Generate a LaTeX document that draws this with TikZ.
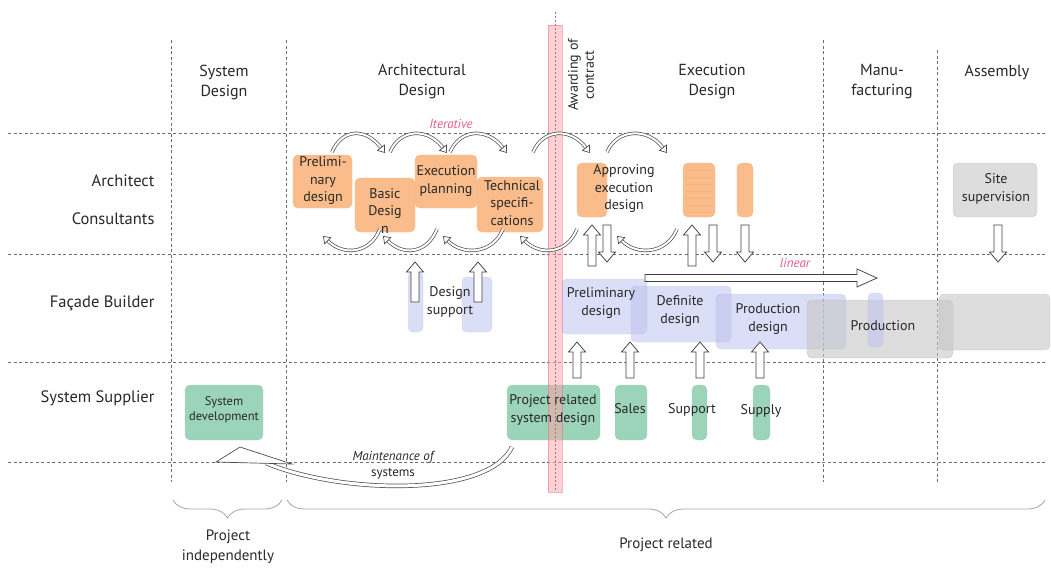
\documentclass[tikz,border=0pt]{standalone}
\usepackage{fontspec}
\setmainfont{PT Sans}
\usetikzlibrary{arrows.meta,decorations.pathreplacing}
\definecolor{orng}{RGB}{249,188,138}
\definecolor{lav}{RGB}{188,194,238}
\definecolor{grn}{RGB}{156,212,186}
\definecolor{gry}{RGB}{198,198,198}
\definecolor{pnk}{RGB}{232,90,140}
\definecolor{txt}{RGB}{40,40,40}
\definecolor{gridc}{RGB}{110,110,110}
\newcommand{\blkup}[3]{\draw[blk] (#1-4,#2) -- (#1-4,#3+10) -- (#1-8.5,#3+10) -- (#1,#3) -- (#1+8.5,#3+10) -- (#1+4,#3+10) -- (#1+4,#2) -- cycle;}
\newcommand{\blkdown}[3]{\draw[blk] (#1-4,#2) -- (#1-4,#3-10) -- (#1-8.5,#3-10) -- (#1,#3) -- (#1+8.5,#3-10) -- (#1+4,#3-10) -- (#1+4,#2) -- cycle;}
\newcommand{\arctop}[2]{\draw[arcstyle] (#1,152) .. controls (#1+10,129) and (#2-20,127) .. (#2,153);}
\newcommand{\arcbot}[2]{\draw[arcstyle] (#2,229) .. controls (#2-10,254) and (#1+20,256) .. (#1,236);}
\begin{document}
\begin{tikzpicture}[x=1pt,y=-1pt,
  every node/.style={text=txt},
  gridline/.style={draw=gridc, line width=1pt, dash pattern=on 3pt off 2.5pt},
  hdr/.style={font=\fontsize{16}{20}\selectfont, align=center},
  rowlab/.style={font=\fontsize{16.5}{20}\selectfont, anchor=east},
  btxt/.style={font=\fontsize{14}{17.5}\selectfont, align=center, inner sep=0pt},
  stxt/.style={font=\fontsize{12.5}{15}\selectfont, align=center, inner sep=0pt},
  anyrect/.style={rounded corners=5pt, inner sep=0pt, minimum width=#1},
  obox/.style={anyrect=#1, fill=orng, draw=orng!90!brown, line width=0.3pt},
  lbox/.style={anyrect=#1, fill=lav, fill opacity=0.55, draw=lav!80!black, draw opacity=0.35, line width=0.4pt},
  gbox/.style={anyrect=#1, fill=gry, fill opacity=0.6, draw=gray, draw opacity=0.3, line width=0.4pt},
  grbox/.style={anyrect=#1, fill=grn, draw=grn!85!black, draw opacity=0.4, line width=0.3pt},
  blk/.style={draw=black!75, fill=white, line width=0.75pt},
  arcstyle/.style={draw=black!70, double=white, double distance=2pt, line width=0.7pt,
     -{Triangle[open, length=7pt, width=10pt]}},
  pinklab/.style={text=pnk, font=\fontsize{13}{15}\selectfont\itshape}
]
\useasboundingbox (0,0) rectangle (1051,568);
% grid
\foreach \yy in {133,254,362,462} \draw[gridline] (8,\yy) -- (1045,\yy);
\foreach \xx/\yt in {171/40,286/40,823/40,937/50} \draw[gridline] (\xx,\yt) -- (\xx,482);
% architect row boxes
\node[obox=59pt, minimum height=53pt] (bpre) at (322.5,181.5) {};
\node[obox=60pt, minimum height=54pt] (bbas) at (385,205) {};
\node[obox=62pt, minimum height=53pt] (bexe) at (446,181.5) {};
\node[obox=66pt, minimum height=55pt] (btec) at (510,204.5) {};
\node[obox=30pt, minimum height=54pt] (bapp) at (592,190) {};
\node[obox=32pt, minimum height=54pt] (bob2) at (699,190) {};
\foreach \yy in {170,177,184,191,198,205,212} \draw[orng!75!brown, line width=0.3pt, opacity=0.5] (685,\yy) -- (713,\yy);
\node[obox=16pt, minimum height=54pt] (bob3) at (745,190) {};
\node[gbox=84pt, minimum height=54pt] (bsite) at (995,190) {};
% facade row boxes
\node[lbox=15pt, minimum height=60pt] (ds1) at (415.5,302) {};
\node[lbox=30pt, minimum height=55pt] (ds2) at (477,304.5) {};
\node[lbox=85pt, minimum height=55pt] (fpre) at (604.5,306.5) {};
\node[lbox=100pt, minimum height=56pt] (fdef) at (681,314) {};
\node[lbox=130pt, minimum height=55pt] (fprd) at (781,321.5) {};
\node[gbox=146pt, minimum height=58pt] (fpro) at (880,329) {};
\node[lbox=15pt, minimum height=54pt] (fbar) at (875.5,320) {};
\node[gbox=111pt, minimum height=56pt] (fass) at (994.5,322) {};
% supplier row boxes
\node[grbox=78pt, minimum height=55pt] (ssd) at (224,412.5) {};
\node[grbox=93pt, minimum height=55pt] (sprs) at (553.5,412.5) {};
\node[grbox=32pt, minimum height=55pt] (ssal) at (631,412.5) {};
\node[grbox=15pt, minimum height=55pt] (ssup) at (699.5,412.5) {};
\node[grbox=17pt, minimum height=55pt] (sspl) at (761.5,412.5) {};
% awarding of contract bar
\node[fill=pink!85!red, fill opacity=0.5, draw=pnk, draw opacity=0.45, line width=0.5pt,
      minimum width=14pt, minimum height=467pt, inner sep=0pt] (bar) at (555,258.5) {};
\draw[draw=pnk!55!gray, line width=0.9pt, dash pattern=on 2pt off 2pt] (555,12) -- (555,492);
% iterative arcs
\arctop{332}{385}
\arctop{390}{447}
\arctop{450}{507}
\arctop{533}{590}
\arctop{607}{667}
\arcbot{323}{380}
\arcbot{383}{437}
\arcbot{443}{503}
\arcbot{520}{577}
\arcbot{617}{677}
% block arrows architect row
\blkup{592}{266}{225}
\blkdown{607}{225}{262}
\blkup{692}{266}{225}
\blkdown{713}{225}{262}
\blkdown{745}{225}{262}
\blkdown{998}{225}{262}
% design support arrows
\blkup{415}{302}{262}
\blkup{478}{302}{262}
% supplier to facade arrows
\blkup{577}{378}{342}
\blkup{630}{378}{342}
\blkup{700}{378}{342}
\blkup{760}{378}{342}
% linear arrow
\draw[blk] (645,274.5) -- (857,274.5) -- (857,269) -- (877,278) -- (857,287) -- (857,281.5) -- (645,281.5) -- cycle;
% maintenance arrow
\coordinate (mstart) at (512,447);
\coordinate (mend) at (266,463);
\draw[draw=black!70, double=white, double distance=3pt, line width=0.7pt] (mstart) .. controls (488,498) and (340,494) .. (mend);
\draw[draw=black!70, fill=white, line width=0.7pt] (216,462) -- (240,447) -- (292,464) -- cycle;
% texts: headers
\node[hdr] (hsys) at (224,82) {System\\Design};
\node[hdr] (harc) at (422,82) {Architectural\\Design};
\node[hdr] (hexe) at (712,82) {Execution\\Design};
\node[hdr] (hman) at (882,82) {Manu-\\facturing};
\node[hdr] (hass) at (997,72) {Assembly};
\node[font=\fontsize{14}{16}\selectfont, align=center, rotate=90] (hawd) at (581,75) {Awarding of\\contract};
% row labels
\node[rowlab] (rarc) at (158,181) {Architect};
\node[rowlab] (rcon) at (158,219) {Consultants};
\node[rowlab] (rfac) at (158,303) {Façade Builder};
\node[rowlab] (rsup) at (158,398) {System Supplier};
% pink labels
\node[pinklab] (liter) at (451,124) {Iterative};
\node[pinklab] (llin) at (795,263) {linear};
% box texts
\node[btxt] (tpre) at (323,181) {Prelimi-\\nary\\design};
\node[btxt] (tbas) at (385,211) {Basic\\Desig\\n};
\node[btxt] (texe) at (446,181) {Execution\\planning};
\node[btxt] (ttec) at (512,203) {Technical\\specifi-\\cations};
\node[btxt] (tapp) at (624,189) {Approving\\execution\\design};
\node[btxt] (tsite) at (996,189) {Site\\supervision};
\node[btxt] (tds) at (450,302) {Design\\support};
\node[btxt] (tfpre) at (601,303) {Preliminary\\design};
\node[btxt] (tfdef) at (680,311) {Definite\\design};
\node[btxt] (tfprd) at (768,319) {Production\\design};
\node[btxt] (tfpro) at (883,326) {Production};
\node[stxt] (tssd) at (224,410) {System\\development};
\node[btxt] (tsprs) at (553,410) {Project related\\system design};
\node[btxt] (tsal) at (630,409) {Sales};
\node[btxt] (tsup) at (692,410) {Support};
\node[btxt] (tspl) at (761,411) {Supply};
\node[font=\fontsize{13}{16}\selectfont, align=center] (tmnt) at (393,465) {\itshape Maintenance of\\systems};
% braces
\draw[gray!70, line width=0.8pt, decorate, decoration={brace, mirror, amplitude=18pt}] (173,500) -- (282,500);
\draw[gray!70, line width=0.8pt, decorate, decoration={brace, mirror, amplitude=18pt}] (287,500) -- (1045,500);
\node[hdr, font=\fontsize{15}{20}\selectfont] (pind) at (228,547) {Project\\independently};
\node[hdr, font=\fontsize{15}{20}\selectfont] (prel) at (666,545) {Project related};
\end{tikzpicture}
\end{document}
